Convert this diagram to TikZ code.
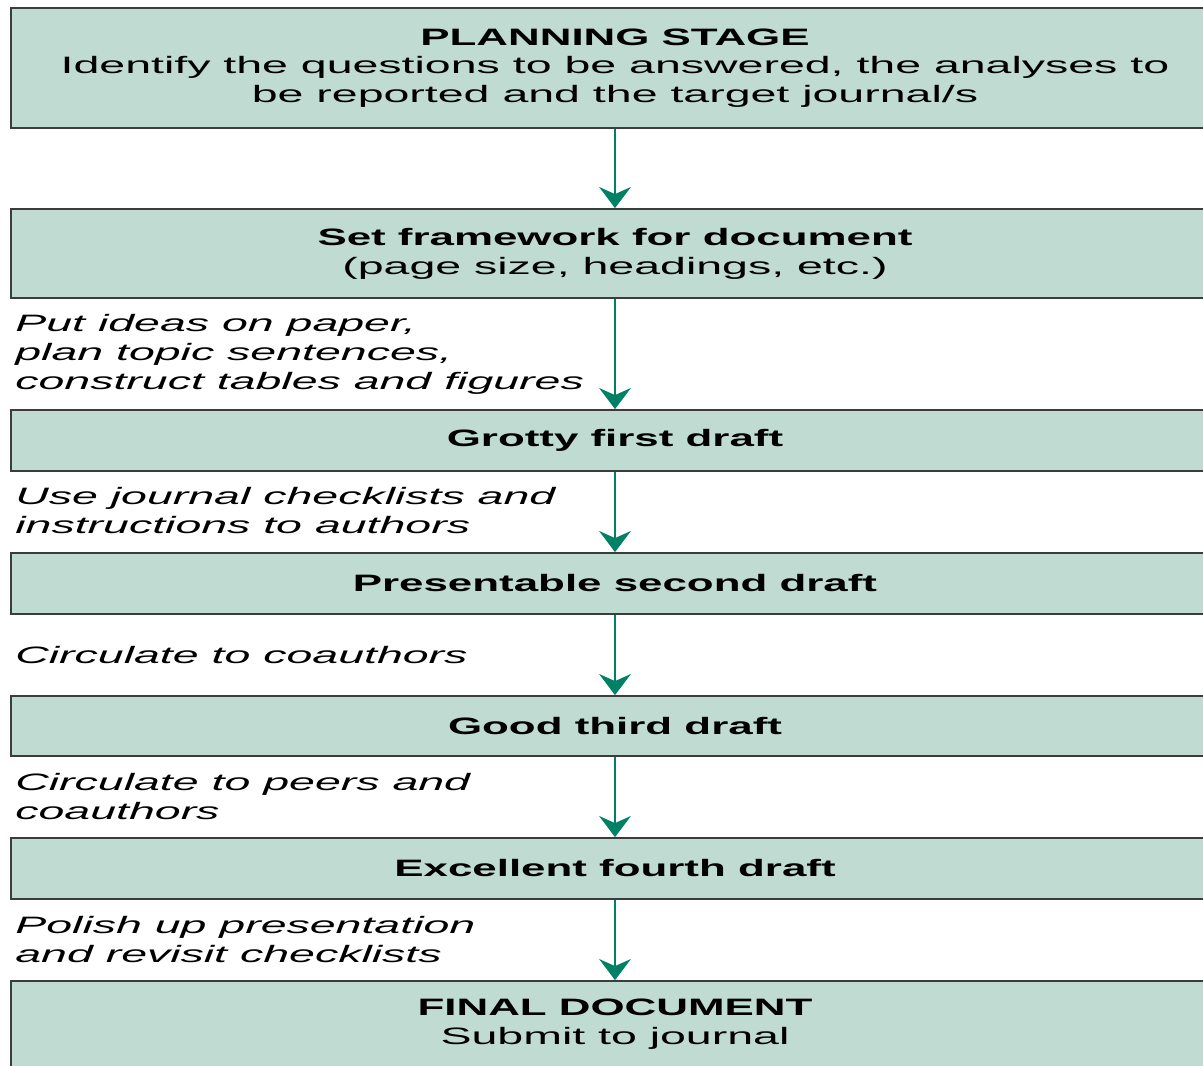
\documentclass[tikz,border=0pt]{standalone}
\usepackage{fontspec}
\setmainfont{Liberation Sans}[FakeStretch=1.96, BoldFeatures={FakeStretch=1.85}]
\usetikzlibrary{arrows.meta}
\definecolor{boxfill}{RGB}{191,219,210}
\definecolor{boxline}{RGB}{60,60,60}
\definecolor{flowgreen}{RGB}{0,128,100}

\begin{document}
\begin{tikzpicture}[x=0.02cm, y=-0.02cm, every node/.style={font=\fontsize{13.5}{16.4}\selectfont},
  stage/.style={draw=boxline, fill=boxfill, line width=1pt, minimum width=24.16cm, align=center, inner sep=0pt},
  note/.style={anchor=base west, align=left, inner sep=0pt, font=\fontsize{13.5}{16.4}\selectfont\itshape},
  flow/.style={draw=flowgreen, line width=1pt, -{Stealth[length=12pt, width=18pt, inset=4pt, fill=flowgreen]}}]
\useasboundingbox (0,0) rectangle (1203,1065); \clip (0,0) rectangle (1203,1065);
\node[stage, minimum height=2.4cm] (plan) at (615,68) {\textbf{PLANNING STAGE}\\Identify the questions to be answered, the analyses to\\be reported and the target journal/s};
\node[stage, minimum height=1.78cm] (frame) at (615,253.5) {\textbf{Set framework for document}\\(page size, headings, etc.)};
\node[stage, minimum height=1.22cm] (first) at (615,440.5) {\textbf{Grotty first draft}};
\node[stage, minimum height=1.22cm] (second) at (615,583.5) {\textbf{Presentable second draft}};
\node[stage, minimum height=1.2cm] (third) at (615,726) {\textbf{Good third draft}};
\node[stage, minimum height=1.22cm] (fourth) at (615,868.5) {\textbf{Excellent fourth draft}};
\node[stage, minimum height=1.72cm] (final) at (615,1024) {\textbf{FINAL DOCUMENT}\\Submit to journal};
% base anchor sits on the last line
\node[note] (ideas) at (15,389) {Put ideas on paper,\\plan topic sentences,\\construct tables and figures};
\node[note] (check) at (15,533) {Use journal checklists and\\instructions to authors};
\node[note] (coauth) at (15,663) {Circulate to coauthors};
\node[note] (peers) at (15,819) {Circulate to peers and\\coauthors};
\node[note] (polish) at (15,962) {Polish up presentation\\and revisit checklists};
\foreach \a/\b in {plan/frame,frame/first,first/second,second/third,third/fourth,fourth/final} \draw[flow] (\a) -- (\b);
\end{tikzpicture}
\end{document}
